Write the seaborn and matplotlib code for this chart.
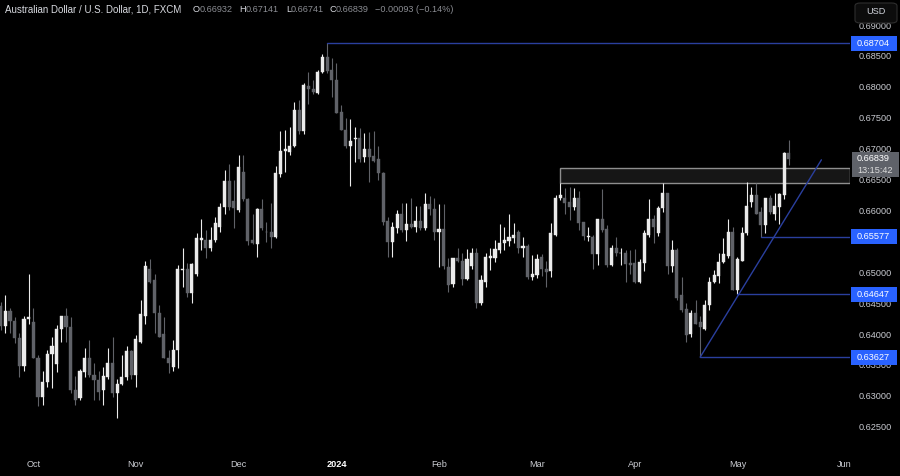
import numpy as np
import pandas as pd
import matplotlib
matplotlib.use("Agg")
import matplotlib.pyplot as plt
import matplotlib.transforms as mtransforms
from matplotlib.patches import Rectangle, FancyBboxPatch
import seaborn as sns

# ---------------- data ----------------
opens = [
    0.6445, 0.6413, 0.6437, 0.6421, 0.6393, 0.6348, 0.6424, 0.6419, 0.6362, 0.6298,
    0.6322, 0.6367, 0.6351, 0.6408, 0.6429, 0.6411, 0.6309, 0.6296, 0.6338, 0.6362,
    0.6333, 0.6325, 0.6309, 0.6330, 0.6353, 0.6304, 0.6319, 0.6330, 0.6372, 0.6333,
    0.6388, 0.6430, 0.6505, 0.6487, 0.6434, 0.6400, 0.6362, 0.6346, 0.6374, 0.6503,
    0.6506, 0.6466, 0.6497, 0.6553, 0.6553, 0.6540, 0.6553, 0.6573, 0.6605, 0.6647,
    0.6615, 0.6600, 0.6663, 0.6618, 0.6552, 0.6545, 0.6602, 0.6566, 0.6565, 0.6557,
    0.6659, 0.6696, 0.6694, 0.6704, 0.6762, 0.6728, 0.6801, 0.6796, 0.6790, 0.6824,
    0.6848, 0.6827, 0.6811, 0.6759, 0.6731, 0.6704, 0.6715, 0.6718, 0.6686, 0.6699,
    0.6688, 0.6684, 0.6660, 0.6583, 0.6549, 0.6571, 0.6594, 0.6568, 0.6578, 0.6574,
    0.6583, 0.6571, 0.6610, 0.6602, 0.6565, 0.6570, 0.6508, 0.6481, 0.6523, 0.6518,
    0.6489, 0.6510, 0.6531, 0.6450, 0.6485, 0.6523, 0.6523, 0.6536, 0.6547, 0.6550,
    0.6555, 0.6565, 0.6539, 0.6542, 0.6492, 0.6495, 0.6524, 0.6506, 0.6502, 0.6561,
    0.6620, 0.6621, 0.6613, 0.6605, 0.6621, 0.6581, 0.6557, 0.6557, 0.6529, 0.6586,
    0.6570, 0.6511, 0.6539, 0.6531, 0.6532, 0.6515, 0.6515, 0.6485, 0.6515, 0.6561,
    0.6586, 0.6563, 0.6604, 0.6628, 0.6510, 0.6536, 0.6463, 0.6440, 0.6400, 0.6434,
    0.6419, 0.6408, 0.6447, 0.6484, 0.6494, 0.6516, 0.6526, 0.6565, 0.6471, 0.6519,
    0.6563, 0.6613, 0.6625, 0.6597, 0.6576, 0.6620, 0.6595, 0.6605, 0.6625, 0.66932,
]
highs = [
    0.6452, 0.6463, 0.6442, 0.6427, 0.6401, 0.6430, 0.6498, 0.6443, 0.6366, 0.6340,
    0.6374, 0.6395, 0.6414, 0.6429, 0.6443, 0.6427, 0.6332, 0.6343, 0.6377, 0.6390,
    0.6353, 0.6341, 0.6346, 0.6377, 0.6396, 0.6328, 0.6366, 0.6380, 0.6374, 0.6398,
    0.6455, 0.6519, 0.6521, 0.6498, 0.6447, 0.6427, 0.6374, 0.6390, 0.6511, 0.6540,
    0.6515, 0.6515, 0.6563, 0.6587, 0.6568, 0.6573, 0.6589, 0.6612, 0.6665, 0.6676,
    0.6649, 0.6689, 0.6689, 0.6621, 0.6595, 0.6604, 0.6618, 0.6581, 0.6612, 0.6672,
    0.6728, 0.6730, 0.6735, 0.6775, 0.6778, 0.6806, 0.6824, 0.6811, 0.6827, 0.6853,
    0.68704, 0.6846, 0.6838, 0.6770, 0.6749, 0.6748, 0.6735, 0.6733, 0.6725, 0.6727,
    0.6728, 0.6705, 0.6662, 0.6589, 0.6581, 0.6600, 0.6612, 0.6612, 0.6620, 0.6608,
    0.6608, 0.6628, 0.6623, 0.6621, 0.6610, 0.6610, 0.6523, 0.6523, 0.6539, 0.6531,
    0.6537, 0.6540, 0.6539, 0.6495, 0.6531, 0.6539, 0.6552, 0.6578, 0.6573, 0.6594,
    0.6579, 0.6568, 0.6557, 0.6545, 0.6528, 0.6529, 0.6529, 0.6519, 0.6579, 0.6625,
    0.6644, 0.6636, 0.6638, 0.6636, 0.6631, 0.6581, 0.6573, 0.6560, 0.6587, 0.6634,
    0.6576, 0.6544, 0.6557, 0.6539, 0.6536, 0.6536, 0.6537, 0.6521, 0.6568, 0.6618,
    0.6592, 0.6608, 0.6644, 0.6629, 0.6552, 0.6540, 0.6492, 0.6450, 0.6439, 0.6455,
    0.6430, 0.6455, 0.6492, 0.6503, 0.6532, 0.6555, 0.6586, 0.6573, 0.6524, 0.6573,
    0.6646, 0.6638, 0.6644, 0.6605, 0.6621, 0.6625, 0.6628, 0.6628, 0.6694, 0.67141,
]
lows = [
    0.6406, 0.6401, 0.6401, 0.6385, 0.6330, 0.6341, 0.6417, 0.6361, 0.6283, 0.6285,
    0.6314, 0.6312, 0.6338, 0.6387, 0.6387, 0.6304, 0.6285, 0.6293, 0.6330, 0.6330,
    0.6293, 0.6293, 0.6286, 0.6328, 0.6298, 0.6265, 0.6317, 0.6325, 0.6328, 0.6314,
    0.6385, 0.6417, 0.6482, 0.6401, 0.6395, 0.6361, 0.6337, 0.6341, 0.6345, 0.6476,
    0.6460, 0.6451, 0.6494, 0.6536, 0.6523, 0.6534, 0.6549, 0.6566, 0.6595, 0.6600,
    0.6571, 0.6597, 0.6616, 0.6544, 0.6545, 0.6524, 0.6568, 0.6549, 0.6539, 0.6555,
    0.6654, 0.6662, 0.6689, 0.6702, 0.6723, 0.6723, 0.6773, 0.6788, 0.6788, 0.6822,
    0.6822, 0.6783, 0.6757, 0.6730, 0.6701, 0.6639, 0.6678, 0.6678, 0.6678, 0.6646,
    0.6678, 0.6649, 0.6576, 0.6524, 0.6524, 0.6563, 0.6565, 0.6550, 0.6571, 0.6566,
    0.6568, 0.6568, 0.6592, 0.6552, 0.6508, 0.6506, 0.6468, 0.6476, 0.6516, 0.6479,
    0.6487, 0.6506, 0.6442, 0.6447, 0.6476, 0.6503, 0.6516, 0.6532, 0.6536, 0.6542,
    0.6547, 0.6531, 0.6524, 0.6489, 0.6487, 0.6490, 0.6494, 0.6476, 0.6492, 0.6558,
    0.6617, 0.6595, 0.6584, 0.6600, 0.6568, 0.6553, 0.6550, 0.6505, 0.6511, 0.6566,
    0.6508, 0.6510, 0.6526, 0.6511, 0.6484, 0.6498, 0.6482, 0.6482, 0.6502, 0.6557,
    0.6547, 0.6558, 0.6597, 0.6498, 0.6500, 0.6455, 0.6435, 0.6387, 0.6395, 0.6417,
    0.63627, 0.6406, 0.6439, 0.6482, 0.6482, 0.6515, 0.6523, 0.6471, 0.64647, 0.6518,
    0.6560, 0.6605, 0.6595, 0.65577, 0.6563, 0.6595, 0.6584, 0.6578, 0.6618, 0.66741,
]
closes = [
    0.6413, 0.6437, 0.6421, 0.6393, 0.6348, 0.6424, 0.6427, 0.6361, 0.6298, 0.6322,
    0.6367, 0.6380, 0.6408, 0.6429, 0.6411, 0.6309, 0.6293, 0.6340, 0.6362, 0.6333,
    0.6325, 0.6306, 0.6332, 0.6353, 0.6304, 0.6320, 0.6330, 0.6372, 0.6333, 0.6392,
    0.6432, 0.6510, 0.6485, 0.6434, 0.6396, 0.6362, 0.6354, 0.6374, 0.6505, 0.6506,
    0.6466, 0.6513, 0.6555, 0.6555, 0.6540, 0.6553, 0.6579, 0.6605, 0.6647, 0.6605,
    0.6604, 0.6670, 0.6618, 0.6550, 0.6547, 0.6602, 0.6571, 0.6565, 0.6557, 0.6660,
    0.6696, 0.6699, 0.6705, 0.6762, 0.6728, 0.6803, 0.6796, 0.6791, 0.6824, 0.6848,
    0.6825, 0.6811, 0.6757, 0.6731, 0.6704, 0.6712, 0.6718, 0.6684, 0.6699, 0.6686,
    0.6680, 0.6660, 0.6581, 0.6549, 0.6573, 0.6594, 0.6568, 0.6578, 0.6574, 0.6583,
    0.6571, 0.6610, 0.6602, 0.6565, 0.6570, 0.6510, 0.6479, 0.6523, 0.6518, 0.6489,
    0.6521, 0.6531, 0.6450, 0.6487, 0.6524, 0.6526, 0.6537, 0.6547, 0.6552, 0.6557,
    0.6561, 0.6539, 0.6542, 0.6492, 0.6497, 0.6521, 0.6505, 0.6500, 0.6563, 0.6620,
    0.6625, 0.6612, 0.6605, 0.6621, 0.6579, 0.6558, 0.6558, 0.6529, 0.6586, 0.6568,
    0.6511, 0.6539, 0.6531, 0.6532, 0.6513, 0.6511, 0.6485, 0.6516, 0.6563, 0.6586,
    0.6574, 0.6604, 0.6628, 0.6510, 0.6536, 0.6458, 0.6439, 0.6398, 0.6434, 0.6417,
    0.6411, 0.6447, 0.6485, 0.6495, 0.6516, 0.6529, 0.6565, 0.6471, 0.6521, 0.6563,
    0.6607, 0.6625, 0.6595, 0.6576, 0.6620, 0.6597, 0.6607, 0.6626, 0.66932, 0.66839,
]

level_prices = [0.68704, 0.65577, 0.64647, 0.63627]
level_starts = [70, 163, 158, 150]
trend_x = [150, 176]
trend_y = [0.63627, 0.6682]
zone_start = 120
zone_low = 0.6644
zone_high = 0.6669
last_price = 0.66839
countdown = "13:15:42"
y_ticks = [0.625, 0.630, 0.635, 0.640, 0.645, 0.650, 0.655, 0.660,
           0.665, 0.670, 0.675, 0.680, 0.685, 0.690]
hidden_ticks = [0.655]   # fully covered by the 0.65577 label in the reference
title = "Australian Dollar / U.S. Dollar, 1D, FXCM"
ohlc_letters = ["O", "H", "L", "C"]
ohlc_values = ["0.66932", "0.67141", "0.66741", "0.66839"]
change_text = "\u22120.00093 (\u22120.14%)"

# ---------------- style ----------------
sns.set_theme(style="dark", rc={"axes.facecolor": "black",
                                "figure.facecolor": "black"})
plt.rcParams['font.family'] = ['Liberation Sans', 'DejaVu Sans']

BULL = "#ebebeb"
BEAR = "#606268"
LINE = "#2a3f9e"
LABEL_BG = "#2962ff"
AXIS_TXT = "#c9cbd1"
FS = 6.6

W, H = 900, 476
fig = plt.figure(figsize=(W / 100, H / 100), dpi=100)
ax = fig.add_axes([0, 24 / H, 850 / W, 452 / H])
ax.set_facecolor("black")
for s in ax.spines.values():
    s.set_visible(False)

dates = pd.bdate_range("2023-09-21", "2024-06-07")
dates = dates[dates != pd.Timestamp("2024-01-01")]
n = len(opens)
xi = np.arange(n)
o = np.array(opens); c = np.array(closes)
h = np.array(highs); l = np.array(lows)
up = c >= o
colors = np.where(up, BULL, BEAR)

# wicks
ax.vlines(xi, l, h, colors=colors, linewidth=0.8, zorder=3)
# bodies
body_bottom = np.minimum(o, c)
body_h = np.maximum(np.abs(c - o), 0.0001)
ax.bar(xi, body_h, bottom=body_bottom, width=0.66, color=colors,
       edgecolor=colors, linewidth=0.3, zorder=4)

x_left, x_right = -0.15, 182.13
y_bot, y_top = 0.62092, 0.69406
ax.set_xlim(x_left, x_right)
ax.set_ylim(y_bot, y_top)

# resistance zone
ax.add_patch(Rectangle((zone_start, zone_low), x_right - zone_start,
                       zone_high - zone_low, facecolor="#161616",
                       edgecolor="#8e8e8e", linewidth=1.0, zorder=2))

# horizontal levels
for p, s in zip(level_prices, level_starts):
    sns.lineplot(x=[s, x_right], y=[p, p], ax=ax, color=LINE,
                 linewidth=1.0, zorder=5, legend=False)
# trendline
sns.lineplot(x=trend_x, y=trend_y, ax=ax, color=LINE, linewidth=1.0,
             zorder=5, legend=False)

# x ticks at month starts
tick_pos, tick_lab = [], []
for i in range(1, len(dates)):
    if dates[i].month != dates[i - 1].month:
        tick_pos.append(i)
        tick_lab.append("2024" if dates[i].month == 1 else dates[i].strftime("%b"))
ax.set_xticks(tick_pos)
ax.set_xticklabels(tick_lab)
ax.tick_params(axis="x", length=0, pad=5.8, labelsize=FS, labelcolor=AXIS_TXT)
for t in ax.get_xticklabels():
    if t.get_text() == "2024":
        t.set_color("#ffffff")
        t.set_fontweight("bold")

# y ticks on right
ax.yaxis.tick_right()
ax.set_yticks(y_ticks)
ax.set_yticklabels(["" if any(abs(v - hv) < 1e-9 for hv in hidden_ticks)
                    else f"{v:.5f}" for v in y_ticks])
ax.tick_params(axis="y", length=0, pad=6.5, labelsize=FS, labelcolor=AXIS_TXT)
ax.grid(False)
ax.set_xlabel(""); ax.set_ylabel("")

# price labels on axis
blend = mtransforms.blended_transform_factory(fig.transFigure, ax.transData)
px_price = (y_top - y_bot) / 452.0
for p in level_prices:
    ax.add_patch(Rectangle((851 / W, p - 7.5 * px_price), 46 / W, 15 * px_price,
                           transform=blend, facecolor=LABEL_BG, edgecolor="none",
                           clip_on=False, zorder=20))
    ax.text(857 / W, p, f"{p:.5f}", transform=blend, color="white",
            fontsize=FS, va="center", ha="left", clip_on=False, zorder=21)

# last price label
ax.add_patch(Rectangle((852 / W, last_price - 18.5 * px_price), 47 / W,
                       25.5 * px_price, transform=blend, facecolor="#5f6269",
                       edgecolor="none", clip_on=False, zorder=20))
ax.text(857 / W, last_price, f"{last_price:.5f}", transform=blend,
        color="white", fontsize=FS, va="center", ha="left", clip_on=False,
        zorder=21)
ax.text(857 / W, last_price - 11.5 * px_price, countdown, transform=blend,
        color="#dcdcdc", fontsize=FS, va="center", ha="left", clip_on=False,
        zorder=21)

# USD button
fig.add_artist(FancyBboxPatch((855 / W, (H - 23) / H), 42 / W, 20 / H,
                              boxstyle="round,pad=0,rounding_size=0.006",
                              transform=fig.transFigure, facecolor="#0c0c0c",
                              edgecolor="#2e2e2e", linewidth=0.8, zorder=30))
fig.text(876 / W, (H - 12) / H, "USD", color="#d1d4dc", fontsize=FS,
         ha="center", va="center", zorder=31)

# header
ty = (H - 10) / H
fig.text(5 / W, ty, title, color="#d8dae0", fontsize=7.0, ha="left", va="center")
letter_x = [193, 239, 286, 330]
value_x = [200, 246, 291, 336]
for lt, vv, lx, vx in zip(ohlc_letters, ohlc_values, letter_x, value_x):
    fig.text(lx / W, ty, lt, color="#d8dae0", fontsize=FS, ha="left", va="center")
    fig.text(vx / W, ty, vv, color="#8b8d93", fontsize=FS, ha="left", va="center")
fig.text(375 / W, ty, change_text, color="#8b8d93", fontsize=FS,
         ha="left", va="center")

fig.savefig("out.png", dpi=100, facecolor="black")
